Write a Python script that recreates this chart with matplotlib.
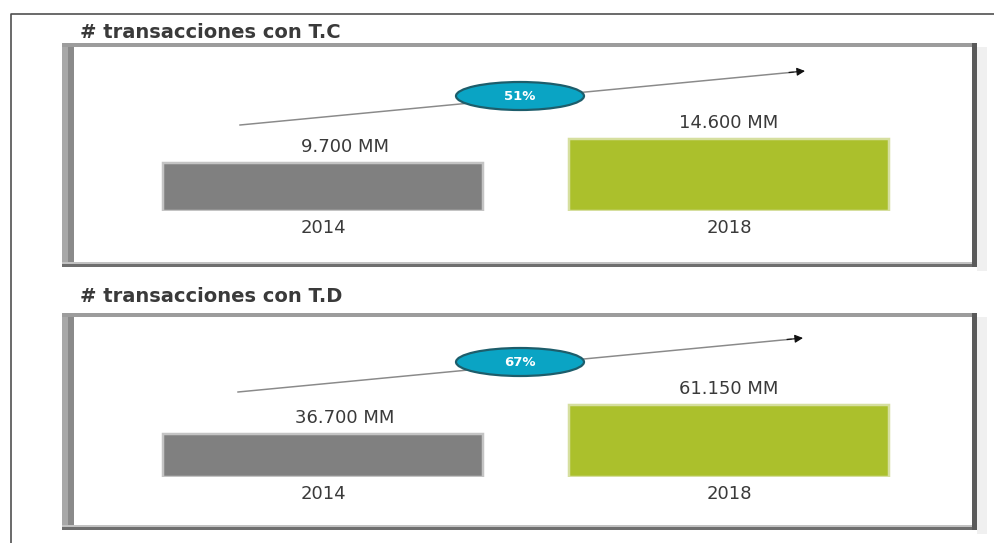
import matplotlib
matplotlib.use("Agg")
import matplotlib.pyplot as plt
from matplotlib.patches import Rectangle, Ellipse

# data
years = ["2014", "2018"]
tc_values = [9700, 14600]
td_values = [36700, 61150]
titles = ["# transacciones con T.C", "# transacciones con T.D"]

GRAY = "#808080"; GRAY_E = "#c4c4c4"
GREEN = "#abc02c"; GREEN_E = "#d6df9f"
TEAL = "#0aa4c4"; TEAL_E = "#1d5d6b"
INK = "#3a3a3a"

W, H = 995, 543
fig = plt.figure(figsize=(W / 100, H / 100), dpi=100)
fig.patch.set_facecolor("white")
bg = fig.add_axes([0, 0, 1, 1])
bg.set_xlim(0, W); bg.set_ylim(H, 0); bg.axis("off")

PX = 0.72  # points per pixel

def fmt(v):
    return f"{v:,}".replace(",", ".") + " MM"

def growth(a, b):
    return f"{round((b / a - 1) * 100)}%"

# outer frame
bg.plot([11, 11, W], [H, 14, 14], color="#4a4a4a", lw=1.6 * PX, solid_capstyle="butt")

def panel(top, bottom):
    l, r = 62, 977
    bg.add_patch(Rectangle((r, top + 4), 10, bottom - top, facecolor="#f0f0f0", edgecolor="none", zorder=1))
    bg.add_patch(Rectangle((l, top), r - l, bottom - top, facecolor="white", edgecolor="none", zorder=1))
    bg.add_patch(Rectangle((l, top), 6, bottom - top, facecolor="#a8a8a8", edgecolor="none", zorder=2))
    bg.add_patch(Rectangle((l + 6, top), 6, bottom - top, facecolor="#8a8a8a", edgecolor="none", zorder=2))
    bg.add_patch(Rectangle((l, top), r - l, 4, facecolor="#9c9c9c", edgecolor="none", zorder=2))
    bg.add_patch(Rectangle((r - 5, top), 5, bottom - top, facecolor="#5a5a5a", edgecolor="none", zorder=3))
    bg.add_patch(Rectangle((l, bottom - 5), r - l, 2, facecolor="#c2c2c2", edgecolor="none", zorder=2))
    bg.add_patch(Rectangle((l, bottom - 3), r - l, 3, facecolor="#6e6e6e", edgecolor="none", zorder=2))

panels = [
    dict(title=titles[0], ty=33, top=43, bottom=267, base=211, top18=72, arrow=((240, 125), (805, 71)),
         ell=(520, 96), vals=tc_values),
    dict(title=titles[1], ty=296, top=313, bottom=530, base=477, top18=72, arrow=((238, 392), (803, 338)),
         ell=(520, 362), vals=td_values),
]

for p in panels:
    panel(p["top"], p["bottom"])
    bg.text(80, p["ty"], p["title"], fontsize=14, fontweight="bold", color=INK,
            ha="left", va="center", family="DejaVu Sans")

    # trend line with black arrow head and growth badge
    (x0, y0), (x1, y1) = p["arrow"]
    bg.plot([x0, x1 - 12], [y0, y1 + 1.2], color="#8a8a8a", lw=1.5 * PX, zorder=4)
    bg.annotate("", xy=(x1, y1), xytext=(x1 - 16, y1 + 1.5),
                arrowprops=dict(arrowstyle="-|>", color="#111111", lw=1.2 * PX, mutation_scale=12,
                                shrinkA=0, shrinkB=0), zorder=5)
    ex, ey = p["ell"]
    bg.add_patch(Ellipse((ex, ey), 128, 28, facecolor=TEAL, edgecolor=TEAL_E, lw=2.2 * PX, zorder=6))
    bg.text(ex, ey + 1, growth(*p["vals"]), fontsize=9.5, fontweight="bold", color="white",
            ha="center", va="center", zorder=7)

    # bars
    ax_h = 151
    left, right = 120, 932
    ax = fig.add_axes([left / W, 1 - p["base"] / H, (right - left) / W, ax_h / H])
    ax.patch.set_alpha(0)
    ymax = p["vals"][1] * ax_h / p["top18"]
    ax.set_xlim(-0.5, 1.5); ax.set_ylim(0, ymax)
    x = range(len(years))
    ax.bar(x, p["vals"], width=0.79, color=[GRAY, GREEN], edgecolor=[GRAY_E, GREEN_E],
           linewidth=2.5 * PX, zorder=3)
    for i, v in enumerate(p["vals"]):
        ax.annotate(fmt(v), (i + (0.054 if i == 0 else 0.0), v), xytext=(0, 5), textcoords="offset points",
                    ha="center", va="bottom", fontsize=13, color=INK, family="DejaVu Sans")
    ax.set_xticks(list(x))
    ax.set_xticklabels(years, fontsize=13, color=INK)
    ax.tick_params(axis="x", length=0, pad=6)
    ax.set_yticks([])
    for s in ax.spines.values():
        s.set_visible(False)

fig.savefig("out.png", dpi=100, facecolor="white")
